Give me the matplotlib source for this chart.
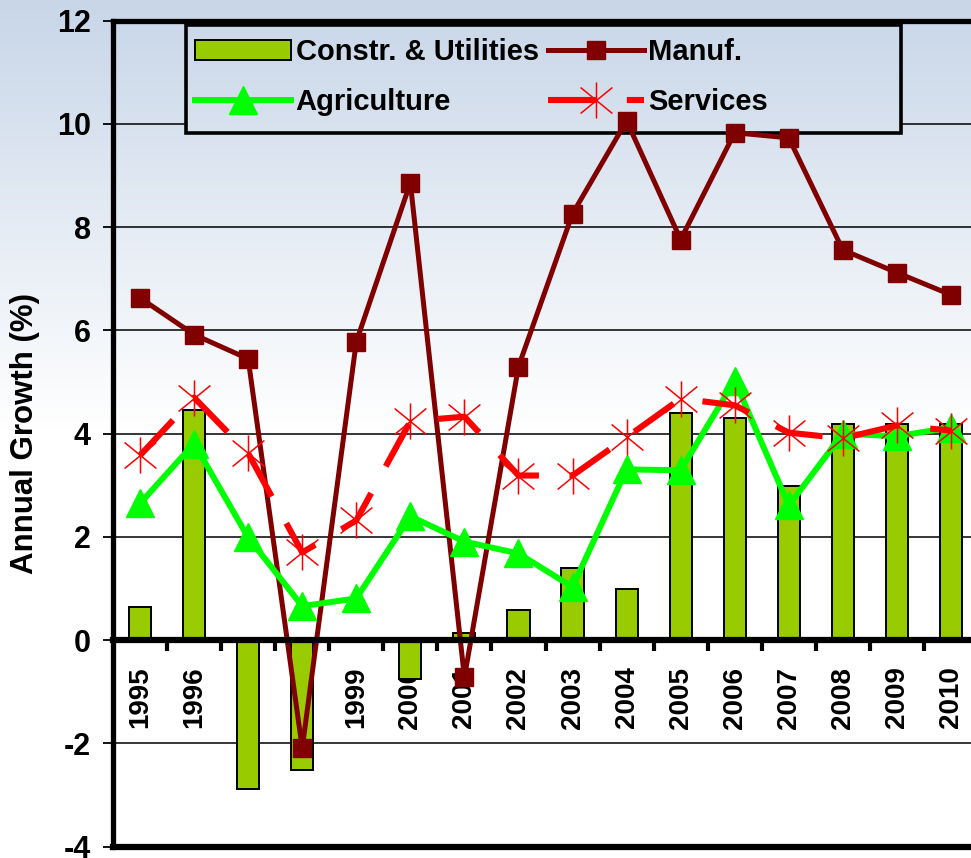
import matplotlib
matplotlib.use('Agg')
import matplotlib.pyplot as plt
import numpy as np
from matplotlib.path import Path
from matplotlib.patches import Rectangle
from matplotlib.lines import Line2D

plt.rcParams['font.family'] = ['Liberation Sans', 'DejaVu Sans']
plt.rcParams['font.weight'] = 'bold'

years = ['1995', '1996', '1997', '1998', '1999', '2000', '2001', '2002',
         '2003', '2004', '2005', '2006', '2007', '2008', '2009', '2010']
constr = [0.64, 4.45, -2.88, -2.51, 0.0, -0.75, 0.13, 0.58,
          1.39, 1.0, 4.4, 4.31, 2.98, 4.18, 4.18, 4.18]
manuf = [6.63, 5.92, 5.45, -2.09, 5.78, 8.86, -0.72, 5.3,
         8.26, 10.06, 7.76, 9.83, 9.73, 7.56, 7.12, 6.69]
agri = [2.65, 3.81, 1.99, 0.66, 0.81, 2.4, 1.91, 1.68,
        1.03, 3.31, 3.29, 5.03, 2.61, 4.0, 3.95, 4.12]
services = [3.58, 4.7, 3.62, 1.70, 2.32, 4.24, 4.33, 3.19,
            3.19, 3.93, 4.68, 4.55, 4.02, 3.91, 4.16, 4.06]
yticks = [-4, -2, 0, 2, 4, 6, 8, 10, 12]

W, H = 971, 858
fig = plt.figure(figsize=(W / 100, H / 100), dpi=100)

# background gradient, light blue at top fading to white
def grad_rows(y0, y1, n=400):
    ys = np.linspace(y0, y1, n)
    t = np.clip(ys / 430.0, 0, 1)
    top = np.array([200, 214, 232]) / 255.0
    rows = top[None, :] * (1 - t[:, None]) + t[:, None] * 1.0
    return rows[:, None, :]

bg = fig.add_axes([0, 0, 1, 1], zorder=-10)
bg.imshow(grad_rows(0, H), aspect='auto', extent=[0, 1, 0, 1])
bg.set_axis_off()

ax_l, ax_r, ax_t, ax_b = 113, 978, 20.7, 846.7
ax = fig.add_axes([ax_l / W, (H - ax_b) / H, (ax_r - ax_l) / W, (ax_b - ax_t) / H])
ax.set_facecolor('none')

x = np.arange(len(years))

ax.bar(x, constr, width=0.41, color='#99cc00', edgecolor='black', linewidth=1.4,
       zorder=3)
ax.plot(x, manuf, color='#800000', lw=3.6, marker='s', markersize=13,
        zorder=4)
ax.plot(x, agri, color='#00ff00', lw=4.3, marker='^', markersize=20.5,
        zorder=5)

ast = Path([(0, -1), (0, 1), (-0.88, -0.72), (0.88, 0.72), (-0.88, 0.72), (0.88, -0.72)],
           [Path.MOVETO, Path.LINETO, Path.MOVETO, Path.LINETO, Path.MOVETO, Path.LINETO])
dash = (0, (7.9, 5.0))
ax.plot(x, services, color='#ff0000', lw=4.4, linestyle=dash,
        dash_capstyle='butt', zorder=6)
ax.plot(x, services, linestyle='none', marker=ast, markersize=26,
        markeredgecolor='#ff0000', markerfacecolor='none', markeredgewidth=1.1,
        zorder=7)

ax.set_xlim(-0.5, 15.5)
ax.set_ylim(-4, 12)

# gridlines
for v in yticks:
    if v not in (-4, 0, 12):
        ax.axhline(v, color='black', lw=1.1, zorder=1)
ax.axhline(-4, color='black', lw=4.5, zorder=8, clip_on=False)

for s in ['left', 'top']:
    ax.spines[s].set_linewidth(3.8)
ax.spines['right'].set_visible(False)
ax.spines['bottom'].set_position(('data', 0))
ax.spines['bottom'].set_linewidth(4.5)
ax.spines['bottom'].set_zorder(8)

ax.set_yticks(yticks)
ax.set_yticklabels([str(v) for v in yticks], fontsize=22, fontweight='bold')
ax.tick_params(axis='y', direction='out', length=7, width=1.3, pad=9)

ax.set_xticks(x)
ax.set_xticklabels(years, rotation=90, fontsize=20, fontweight='bold')
ax.tick_params(axis='x', which='major', length=0, pad=19)
ax.set_xticks(np.arange(len(years) - 1) + 0.5, minor=True)
ax.tick_params(axis='x', which='minor', direction='out', length=8, width=3)

ax.set_ylabel('Annual Growth (%)', fontsize=22.5, fontweight='bold')
ax.yaxis.set_label_coords(-0.084, 0.5)

# legend frame with gradient fill (hides gridline under it)
def px2ax(px, py):
    return (px - ax_l) / (ax_r - ax_l), 1 - (py - ax_t) / (ax_b - ax_t)

lx0, ly1 = px2ax(186, 25)
lx1, ly0 = px2ax(901, 133)
frame = Rectangle((lx0, ly0), lx1 - lx0, ly1 - ly0, transform=ax.transAxes,
                  facecolor='none', edgecolor='black', lw=2.6, zorder=2.5)
ax.add_patch(frame)
fill = ax.imshow(grad_rows(ax_t, ax_b), aspect='auto', extent=[0, 1, 0, 1],
                 transform=ax.transAxes, zorder=2)
fill.set_clip_path(Rectangle((lx0, ly0), lx1 - lx0, ly1 - ly0, transform=ax.transAxes))

h_bar = Rectangle((0, 0), 1, 1, facecolor='#99cc00', edgecolor='black', lw=1.4)
h_man = Line2D([], [], color='#800000', lw=3.6, marker='s', markersize=13)
h_agr = Line2D([], [], color='#00ff00', lw=4.3, marker='^', markersize=20.5)
h_ser = Line2D([], [], color='#ff0000', lw=4.4, linestyle=dash, dash_capstyle='butt',
               marker=ast, markersize=26, markeredgecolor='#ff0000',
               markerfacecolor='none', markeredgewidth=1.1)
hx, hy = px2ax(195, 38)
leg = ax.legend([h_bar, h_agr, h_man, h_ser],
                ['Constr. & Utilities', 'Agriculture', 'Manuf.', 'Services'],
                ncol=2, loc='upper left', bbox_to_anchor=(hx, hy), frameon=False,
                prop={'size': 21, 'weight': 'bold'}, handlelength=3.3,
                handletextpad=0.15, columnspacing=0.3, labelspacing=0.77,
                borderpad=0, borderaxespad=0)
leg.set_zorder(9)

fig.savefig('out.png', dpi=100)
